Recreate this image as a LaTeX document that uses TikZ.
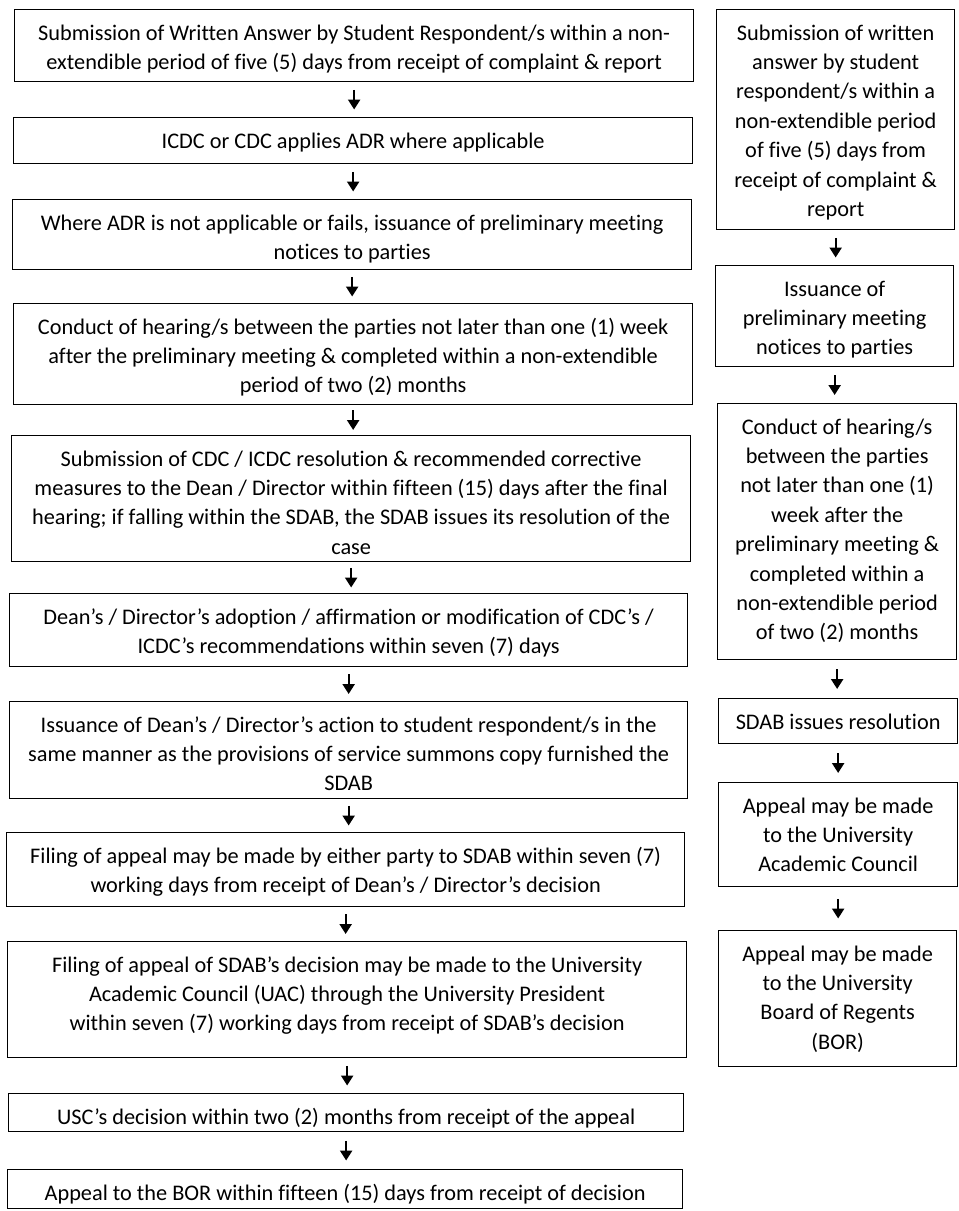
\documentclass[tikz,border=0pt]{standalone}
\usepackage{fontspec}
\setmainfont{Carlito}[Ligatures={NoCommon}]
\usetikzlibrary{arrows.meta}
\newcommand\boxtext[3]{\begin{minipage}[c][#2pt][t]{#1pt}\centering\rule{0pt}{30.5pt}#3\end{minipage}}
\tikzset{
  flowbox/.style={draw=black, line width=1.3pt, inner sep=0pt, anchor=north west,
    font=\fontsize{22.3pt}{29.4pt}\selectfont},
  arr/.style={line width=2.3pt, -{Triangle[width=12pt,length=10pt]}}
}
\begin{document}
\begin{tikzpicture}[x=1pt,y=1pt]
\useasboundingbox (0,0) rectangle (959,-1211);
% left column
\node[flowbox] (L1) at (14,-9) {\boxtext{679}{72}{Submission of Written Answer by Student Respondent/s within a non-\\extendible period of five (5) days from receipt of complaint \& report}};
\node[flowbox] (L2) at (13,-117) {\boxtext{679}{46}{ICDC or CDC applies ADR where applicable}};
\node[flowbox] (L3) at (12,-199) {\boxtext{679}{70}{Where ADR is not applicable or fails, issuance of preliminary meeting\\notices to parties}};
\node[flowbox] (L4) at (13,-303) {\boxtext{679}{101}{Conduct of hearing/s between the parties not later than one (1) week\\after the preliminary meeting \& completed within a non-extendible\\period of two (2) months}};
\node[flowbox] (L5) at (11,-435) {\boxtext{679}{126}{Submission of CDC / ICDC resolution \& recommended corrective\\measures to the Dean / Director within fifteen (15) days after the final\\hearing; if falling within the SDAB, the SDAB issues its resolution of the\\case}};
\node[flowbox] (L6) at (9,-593) {\boxtext{678}{73}{Dean’s / Director’s adoption / affirmation or modification of CDC’s /\\ICDC’s recommendations within seven (7) days}};
\node[flowbox] (L7) at (9,-701) {\boxtext{678}{97}{Issuance of Dean’s / Director’s action to student respondent/s in the\\same manner as the provisions of service summons copy furnished the\\SDAB}};
\node[flowbox] (L8) at (6,-832) {\boxtext{678}{74}{Filing of appeal may be made by either party to SDAB within seven (7)\\working days from receipt of Dean’s / Director’s decision}};
\node[flowbox] (L9) at (7,-941) {\boxtext{679}{116}{Filing of appeal of SDAB’s decision may be made to the University\\Academic Council (UAC) through the University President\\within seven (7) working days from receipt of SDAB’s decision}};
\node[flowbox] (L10) at (8,-1093) {\boxtext{675}{38}{\rule{0pt}{28pt}USC’s decision within two (2) months from receipt of the appeal}};
\node[flowbox] (L11) at (7,-1169) {\boxtext{675}{39}{Appeal to the BOR within fifteen (15) days from receipt of decision}};
% right column
\node[flowbox] (R1) at (716,-9) {\boxtext{238}{220}{Submission of written\\answer by student\\respondent/s within a\\non-extendible period\\of five (5) days from\\receipt of complaint \&\\report}};
\node[flowbox] (R2) at (715,-265) {\boxtext{238}{101}{Issuance of\\preliminary meeting\\notices to parties}};
\node[flowbox] (R3) at (717,-403) {\boxtext{239}{256}{Conduct of hearing/s\\between the parties\\not later than one (1)\\week after the\\preliminary meeting \&\\completed within a\\non-extendible period\\of two (2) months}};
\node[flowbox] (R4) at (718,-698) {\boxtext{239}{45}{SDAB issues resolution}};
\node[flowbox] (R5) at (718,-782) {\boxtext{239}{104}{Appeal may be made\\to the University\\Academic Council}};
\node[flowbox] (R6) at (718,-930) {\boxtext{238}{136}{Appeal may be made\\to the University\\Board of Regents\\(BOR)}};
% left arrows
\draw[arr, shorten <=7.5pt, shorten >=7.5pt] (L1.south) -- (L1.south |- L2.north);
\draw[arr, shorten <=7.5pt, shorten >=7.5pt] (L2.south) -- (L2.south |- L3.north);
\draw[arr, shorten <=6.5pt, shorten >=6.5pt] (L3.south) -- (L3.south |- L4.north);
\draw[arr, shorten <=5pt, shorten >=5pt] (L4.south) -- (L4.south |- L5.north);
\draw[arr, shorten <=5.5pt, shorten >=5.5pt] (L5.south) -- (L5.south |- L6.north);
\draw[arr, shorten <=7pt, shorten >=7pt] (L6.south) -- (L6.south |- L7.north);
\draw[arr, shorten <=6.5pt, shorten >=6.5pt] (L7.south) -- (L7.south |- L8.north);
\draw[arr, shorten <=7pt, shorten >=7pt] (L8.south) -- (L8.south |- L9.north);
\draw[arr, shorten <=7.5pt, shorten >=7.5pt] (L9.south) -- (L9.south |- L10.north);
\draw[arr, shorten <=8.5pt, shorten >=8.5pt] (L10.south) -- (L10.south |- L11.north);
% right arrows
\draw[arr, shorten <=7.5pt, shorten >=7.5pt] (R1.south) -- (R1.south |- R2.north);
\draw[arr, shorten <=8pt, shorten >=8pt] (R2.south) -- (R2.south |- R3.north);
\draw[arr, shorten <=9pt, shorten >=9pt] (R3.south) -- (R3.south |- R4.north);
\draw[arr, shorten <=9pt, shorten >=9pt] (R4.south) -- (R4.south |- R5.north);
\draw[arr, shorten <=11.5pt, shorten >=11.5pt] (R5.south) -- (R5.south |- R6.north);
\end{tikzpicture}
\end{document}
